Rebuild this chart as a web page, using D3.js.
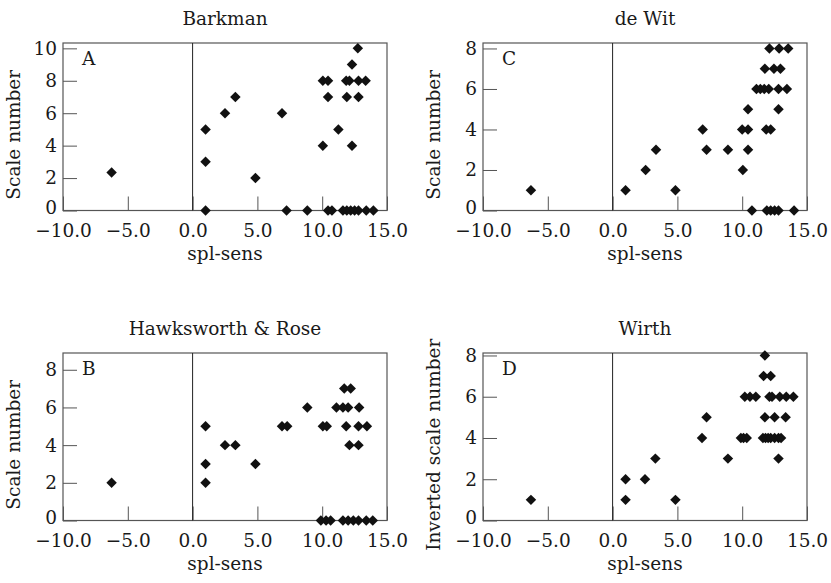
<!doctype html>
<html>
<head>
  <meta charset="utf-8">
  <style>
    body { margin: 0; background: #fff; }
    text { font-family: "DejaVu Serif", serif; fill: #1a1a1a; }
  </style>
  <script src="https://d3js.org/d3.v7.min.js"></script>
</head>
<body>
<svg width="831" height="583"></svg>
<script>
  // spl-sens vs scale number, four indicator schemes
  var xTicks = [-10, -5, 0, 5, 10, 15];

  var barkmanX = [-6.25, 1.0, 1.0, 1.0, 2.5, 3.3, 4.85, 6.9, 7.25, 8.85,
    10.05, 10.05, 10.45, 10.45, 10.45, 10.75, 11.25, 11.6, 11.85, 11.9, 11.9,
    12.1, 12.2, 12.3, 12.3, 12.5, 12.75, 12.8, 12.8, 12.8, 13.35, 13.4, 13.95];
  var barkmanY = [2.35, 5, 3, 0, 6, 7, 2, 6, 0, 0,
    8, 4, 8, 7, 0, 0, 5, 0, 8, 7, 0,
    8, 0, 9, 4, 0, 10, 8, 7, 0, 8, 0, 0];

  var hawksX = [-6.25, 1.0, 1.0, 1.0, 2.5, 3.3, 4.85, 6.9, 7.3, 8.85,
    10.05, 10.35, 9.9, 10.3, 10.65, 11.1, 11.6, 12.0, 12.85, 11.7, 12.2,
    11.85, 12.8, 13.45, 12.1, 12.8, 11.6, 12.0, 12.4, 12.8, 13.4, 13.9];
  var hawksY = [2, 5, 3, 2, 4, 4, 3, 5, 5, 6,
    5, 5, 0, 0, 0, 6, 6, 6, 6, 7, 7,
    5, 5, 5, 4, 4, 0, 0, 0, 0, 0, 0];

  var dewitX = [-6.3, 1.0, 2.55, 3.35, 4.85, 6.95, 7.25, 8.9,
    10.0, 10.45, 10.05, 10.45, 10.45, 10.75, 11.85, 12.2, 12.8,
    11.1, 11.4, 11.7, 12.05, 12.8, 13.45, 11.75, 12.45, 12.95,
    12.1, 12.85, 13.55, 11.9, 12.2, 12.5, 12.8, 14.0];
  var dewitY = [1, 1, 2, 3, 1, 4, 3, 3,
    4, 4, 2, 3, 5, 0, 4, 4, 5,
    6, 6, 6, 6, 6, 6, 7, 7, 7,
    8, 8, 8, 0, 0, 0, 0, 0];

  var wirthX = [-6.3, 1.0, 1.0, 2.5, 3.3, 4.85, 6.9, 7.25, 8.9,
    9.9, 10.1, 10.35, 10.2, 10.6, 11.05,
    11.6, 11.8, 12.0, 12.2, 12.5, 12.8, 13.0,
    11.75, 11.65, 12.2, 12.1, 12.3, 12.9, 13.4, 13.95,
    11.75, 12.5, 13.35, 12.8];
  var wirthY = [1, 2, 1, 2, 3, 1, 4, 5, 3,
    4, 4, 4, 6, 6, 6,
    4, 4, 4, 4, 4, 4, 4,
    8, 7, 7, 6, 6, 6, 6, 6,
    5, 5, 5, 3];

  var yTicks10 = [0, 2, 4, 6, 8, 10];
  var yTicks8 = [0, 2, 4, 6, 8];

  var panels = [
    { title: "Barkman", letter: "A", ylab: "Scale number", xs: barkmanX, ys: barkmanY, ymax: 10.33, yt: yTicks10, left: 63, top: 43 },
    { title: "de Wit", letter: "C", ylab: "Scale number", xs: dewitX, ys: dewitY, ymax: 8.27, yt: yTicks8, left: 483, top: 43 },
    { title: "Hawksworth & Rose", letter: "B", ylab: "Scale number", xs: hawksX, ys: hawksY, ymax: 8.89, yt: yTicks8, left: 63, top: 353 },
    { title: "Wirth", letter: "D", ylab: "Inverted scale number", xs: wirthX, ys: wirthY, ymax: 8.12, yt: yTicks8, left: 483, top: 353 }
  ];

  var svg = d3.select("svg"),
    width = 324,
    height = 167.5,
    fontSize = 18.5;

  var diamond = d3.symbol().type(d3.symbolDiamond2).size(70);

  panels.forEach(function (p) {
    var g = svg.append("g")
      .attr("transform", "translate(" + p.left + "," + p.top + ")");

    var x = d3.scaleLinear().domain([-10, 15]).range([0, width]);
    var y = d3.scaleLinear().domain([0, p.ymax]).range([height, 0]);

    // inward ticks on bottom
    g.append("g")
      .attr("transform", "translate(0," + height + ")")
      .call(d3.axisBottom(x).tickValues(xTicks).tickSizeInner(-14).tickSizeOuter(0)
        .tickPadding(10.5).tickFormat(function (d) { return d3.format(".1f")(d).replace("-", "\u2212"); }))
      .call(function (a) {
        a.select(".domain").remove();
        a.selectAll(".tick line").attr("stroke", "#555");
        a.selectAll(".tick text").attr("font-size", fontSize).attr("font-family", "DejaVu Serif").attr("dy", "0.85em");
      });

    // inward ticks on left
    g.append("g")
      .call(d3.axisLeft(y).tickValues(p.yt).tickSizeInner(-14).tickSizeOuter(0).tickPadding(6))
      .call(function (a) {
        a.select(".domain").remove();
        a.selectAll(".tick line").attr("stroke", "#555");
        a.selectAll(".tick text").attr("font-size", fontSize).attr("font-family", "DejaVu Serif")
          .attr("y", function (d) { return d === 0 ? -2.5 : 0; });
      });

    // frame
    g.append("rect")
      .attr("width", width)
      .attr("height", height)
      .attr("fill", "none")
      .attr("stroke", "#555")
      .attr("stroke-width", 1.2);

    // zero line
    g.append("line")
      .attr("x1", x(0)).attr("x2", x(0))
      .attr("y1", 0).attr("y2", height)
      .attr("stroke", "#222");

    g.selectAll(".pt")
      .data(p.xs.map(function (v, i) { return [v, p.ys[i]]; }))
      .enter().append("path")
      .attr("class", "pt")
      .attr("d", diamond)
      .attr("transform", function (d) { return "translate(" + x(d[0]) + "," + y(d[1]) + ")"; })
      .attr("fill", "#111");

    g.append("text")
      .attr("x", 19)
      .attr("y", 22)
      .attr("font-size", fontSize)
      .text(p.letter);

    g.append("text")
      .attr("x", width / 2)
      .attr("y", -18)
      .attr("text-anchor", "middle")
      .attr("font-size", fontSize)
      .text(p.title);

    g.append("text")
      .attr("x", width / 2)
      .attr("y", height + 49)
      .attr("text-anchor", "middle")
      .attr("font-size", fontSize)
      .text("spl-sens");

    g.append("text")
      .attr("transform", "rotate(-90)")
      .attr("x", -(height / 2) - 8)
      .attr("y", -43)
      .attr("text-anchor", "middle")
      .attr("font-size", fontSize)
      .text(p.ylab);
  });
</script>
</body>
</html>
